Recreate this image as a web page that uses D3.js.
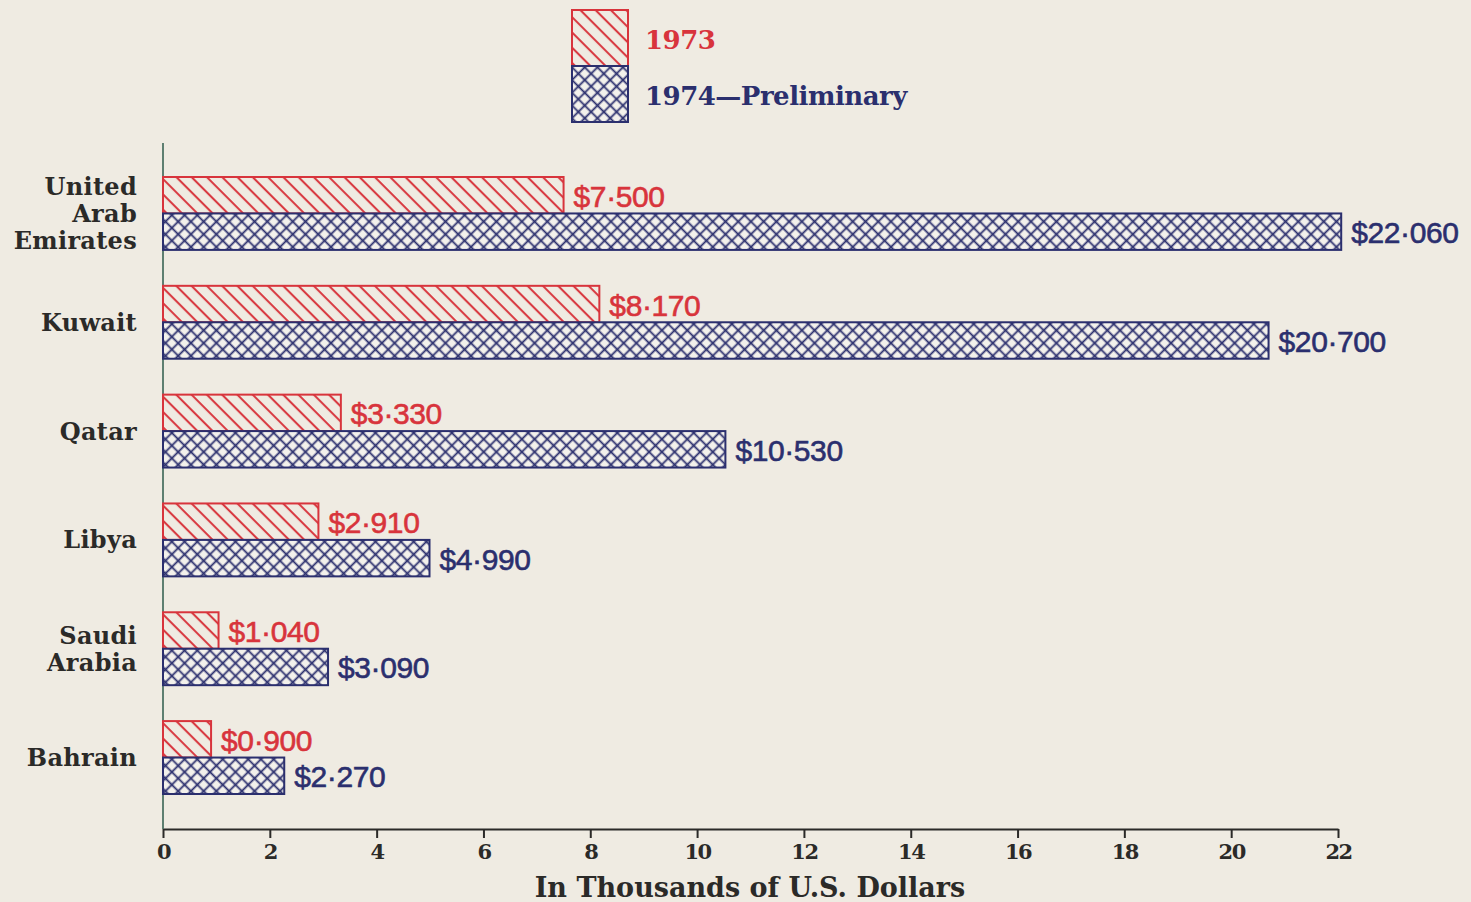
<!DOCTYPE html>
<html>
<head>
<meta charset="utf-8">
<script src="https://cdn.jsdelivr.net/npm/d3@7"></script>
<style>
  body { margin: 0; background: #efebe2; }
  svg { display: block; }
</style>
</head>
<body>
<div id="chart"></div>
<script>
const countries = ["United Arab Emirates", "Kuwait", "Qatar", "Libya", "Saudi Arabia", "Bahrain"]
const country_lines = [["United", "Arab", "Emirates"], ["Kuwait"], ["Qatar"], ["Libya"], ["Saudi", "Arabia"], ["Bahrain"]]
const series = ["1973", "1974"]
const series_labels = ["1973", "1974\u2014Preliminary"]
const values_1973 = [7.500, 8.170, 3.330, 2.910, 1.040, 0.900]
const values_1974 = [22.060, 20.700, 10.530, 4.990, 3.090, 2.270]
const x_ticks = [0, 2, 4, 6, 8, 10, 12, 14, 16, 18, 20, 22]
const x_title = "In Thousands of U.S. Dollars"

const width = 1471
const height = 902
const bg = "#efebe2"
const red = "#d8343c"
const navy = "#2b2f6e"
const ink = "#2b2a28"
const serif = "'DejaVu Serif', serif"
const sans = "'Liberation Sans', Arial, sans-serif"

var svg = d3.select("#chart").append("svg")
	.attr("width", width)
	.attr("height", height)

svg.append("rect").attr("width", width).attr("height", height).attr("fill", bg)

// hatch patterns
var defs = svg.append("defs")
var diag = defs.append("pattern")
	.attr("id", "hatch73")
	.attr("patternUnits", "userSpaceOnUse")
	.attr("width", 10.8).attr("height", 10.8)
	.attr("patternTransform", "rotate(45)")
diag.append("rect").attr("width", 10.8).attr("height", 10.8).attr("fill", bg)
diag.append("line").attr("x1", 0).attr("x2", 10.8).attr("y1", 5).attr("y2", 5)
	.attr("stroke", red).attr("stroke-width", 2)

var cross = defs.append("pattern")
	.attr("id", "hatch74")
	.attr("patternUnits", "userSpaceOnUse")
	.attr("width", 9).attr("height", 9)
	.attr("patternTransform", "rotate(45)")
cross.append("rect").attr("width", 9).attr("height", 9).attr("fill", "#f3f1ec")
cross.append("line").attr("x1", 0).attr("x2", 9).attr("y1", 4.5).attr("y2", 4.5)
	.attr("stroke", navy).attr("stroke-width", 1.8)
cross.append("line").attr("y1", 0).attr("y2", 9).attr("x1", 4.5).attr("x2", 4.5)
	.attr("stroke", navy).attr("stroke-width", 1.8)

var x = d3.scaleLinear().domain([0, 22]).range([163, 1338])
var y = d3.scaleBand().domain(countries).range([177, 794]).paddingInner(0.33).paddingOuter(0)
var y_inner = d3.scaleBand().domain(series).range([0, y.bandwidth()])

var rows = countries.map((c, i) => ({ country: c, lines: country_lines[i], v: [values_1973[i], values_1974[i]] }))
var fmt = v => "$" + d3.format(".3f")(v).replace(".", "\u00b7")

// axes
var x_axis = svg.append("g")
	.attr("transform", `translate(0,829)`)
	.call(d3.axisBottom(x).tickValues(x_ticks).tickSize(9).tickPadding(6).tickSizeOuter(0))
x_axis.select(".domain").attr("stroke", ink).attr("stroke-width", 2)
x_axis.selectAll(".tick line").attr("stroke", ink).attr("stroke-width", 2)
x_axis.selectAll(".tick text")
	.attr("font-family", serif).attr("font-weight", "bold").attr("font-size", 21)
	.attr("fill", ink).attr("letter-spacing", -1.5)

svg.append("line")
	.attr("x1", x(0)).attr("x2", x(0)).attr("y1", 143).attr("y2", 829)
	.attr("stroke", "#2e5b4b").attr("stroke-width", 1.5)

svg.append("text")
	.attr("x", 750).attr("y", 897)
	.attr("text-anchor", "middle")
	.attr("font-family", serif).attr("font-weight", "bold").attr("font-size", 27)
	.attr("fill", ink)
	.text(x_title)

// groups
var group = svg.selectAll(".group")
	.data(rows)
	.enter().append("g")
	.attr("class", "group")
	.attr("transform", d => `translate(0,${y(d.country)})`)

group.selectAll("rect")
	.data(d => d.v.map((v, j) => ({ s: series[j], v: v })))
	.enter().append("rect")
	.attr("x", x(0))
	.attr("y", d => y_inner(d.s))
	.attr("width", d => x(d.v) - x(0))
	.attr("height", y_inner.bandwidth())
	.attr("fill", d => d.s == "1973" ? "url(#hatch73)" : "url(#hatch74)")
	.attr("stroke", d => d.s == "1973" ? red : navy)
	.attr("stroke-width", 2)

group.selectAll(".val")
	.data(d => d.v.map((v, j) => ({ s: series[j], v: v })))
	.enter().append("text")
	.attr("class", "val")
	.attr("x", d => x(d.v) + 10)
	.attr("y", d => y_inner(d.s) + y_inner.bandwidth() / 2 + 1)
	.attr("dominant-baseline", "central")
	.attr("font-family", sans).attr("font-size", 30)
	.attr("letter-spacing", -0.4)
	.attr("stroke", d => d.s == "1973" ? red : navy).attr("stroke-width", 0.6)
	.attr("fill", d => d.s == "1973" ? red : navy)
	.text(d => fmt(d.v))

group.each(function(d) {
	let n = d.lines.length
	let t = d3.select(this).append("text")
		.attr("text-anchor", "end")
		.attr("font-family", serif).attr("font-weight", "bold").attr("font-size", 24)
		.attr("fill", ink)
		.attr("letter-spacing", 0.3)
	d.lines.forEach((l, k) => {
		t.append("tspan")
			.attr("x", 137)
			.attr("y", y.bandwidth() / 2 + (k - (n - 1) / 2) * 27)
			.attr("dominant-baseline", "central")
			.text(l)
	})
})

// legend
var legend = svg.append("g").attr("transform", "translate(572,10)")
legend.selectAll("rect")
	.data(series)
	.enter().append("rect")
	.attr("x", 0)
	.attr("y", (d, i) => i * 56)
	.attr("width", 56).attr("height", 56)
	.attr("fill", d => d == "1973" ? "url(#hatch73)" : "url(#hatch74)")
	.attr("stroke", d => d == "1973" ? red : navy)
	.attr("stroke-width", 2)
legend.selectAll("text")
	.data(series_labels)
	.enter().append("text")
	.attr("x", 73)
	.attr("y", (d, i) => 30 + i * 56)
	.attr("dominant-baseline", "central")
	.attr("font-family", serif).attr("font-weight", "bold").attr("font-size", 26)
	.attr("letter-spacing", -0.5)
	.attr("fill", (d, i) => i == 0 ? red : navy)
	.text(d => d)
</script>
</body>
</html>
